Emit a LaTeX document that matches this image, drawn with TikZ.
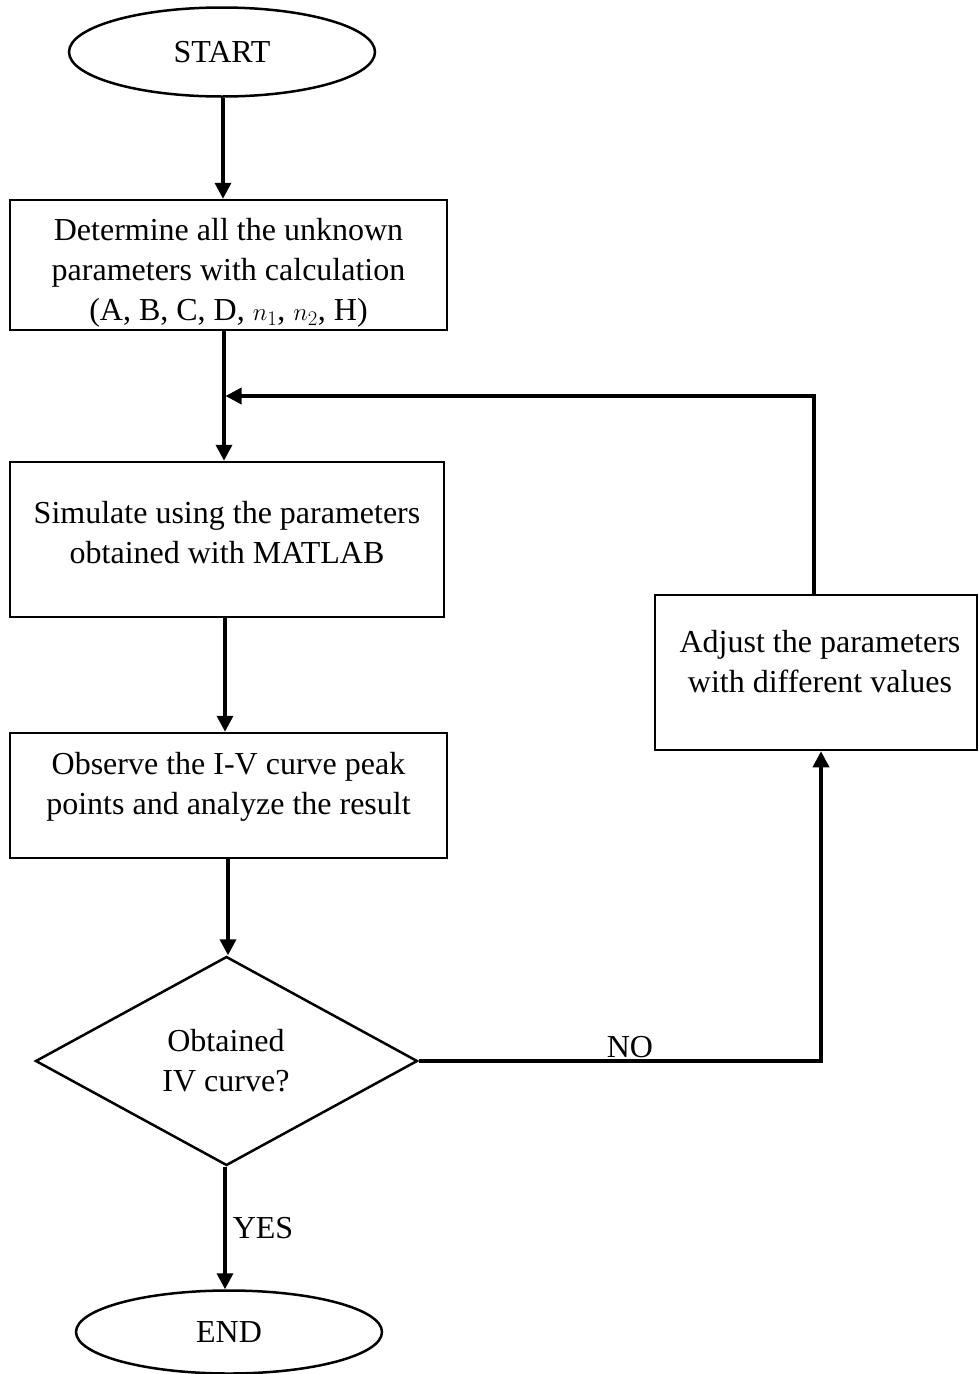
\documentclass[tikz,border=0pt]{standalone}
\usepackage{fontspec}
\setmainfont{Liberation Serif}
\usetikzlibrary{shapes.geometric,arrows.meta,calc}

\begin{document}
\begin{tikzpicture}[x=1pt,y=-1pt,
  font=\fontsize{32}{40}\selectfont,
  term/.style={draw,ellipse,line width=2.5pt,inner sep=0pt},
  stepbox/.style={draw,rectangle,line width=2.5pt,inner sep=0pt},
  txt/.style={align=center,inner sep=0pt},
  decide/.style={draw,diamond,line width=2.5pt,inner sep=0pt},
  flow/.style={line width=3.5pt,-{Triangle[width=16pt,length=16pt]}}]

\useasboundingbox (0,0) rectangle (979,1374);

% terminals
\node[term,minimum width=306,minimum height=89] (start) at (222,52) {START};
\node[term,minimum width=306,minimum height=83] (end) at (229,1332) {END};

% process boxes
\node[stepbox,minimum width=437,minimum height=130] (b1) at (228.5,265) {};
\node[txt] (b1t) at (228.5,273) {Determine all the unknown\\parameters with calculation\\(A, B, C, D, $n_1$, $n_2$, H)};

\node[stepbox,minimum width=434,minimum height=155] (b2) at (227,539.5) {};
\node[txt] (b2t) at (227,533) {Simulate using the parameters\\obtained with MATLAB};

\node[stepbox,minimum width=437,minimum height=125] (b3) at (228.5,795.5) {};
\node[txt] (b3t) at (228.5,787) {Observe the I-V curve peak\\points and analyze the result};

\node[stepbox,minimum width=322,minimum height=155] (adj) at (816,672.5) {};
\node[txt] (adjt) at (820,662) {Adjust the parameters\\with different values};

% decision
\node[decide,minimum width=382,minimum height=209] (dec) at (226.5,1061) {};
\node[txt] (dect) at (226,1061) {Obtained\\IV curve?};

% main flow
\draw[flow] (start.south -| 223,0) -- (b1.north -| 223,0);
\draw[flow] (b1.south -| 224,0) -- (b2.north -| 224,0);
\draw[flow] (b2.south -| 225,0) -- (b3.north -| 225,0);
\draw[flow] (b3.south -| 228,0) -- (dec.north -| 228,0);
\draw[flow] (dec.south -| 225,0) -- node[right,inner sep=6pt] (yes) {YES} (end.north -| 225,0);

% retry loop
\coordinate (nocorner) at (821,1061);
\coordinate (join) at (225.5,396);
\draw[flow] (dec.east) -- node[above,inner sep=1pt,xshift=10pt] (no) {NO} (nocorner) -- (adj.south -| nocorner);
\draw[flow] (adj.north -| 814,0) -- (814,396) -- (join);

\end{tikzpicture}
\end{document}
